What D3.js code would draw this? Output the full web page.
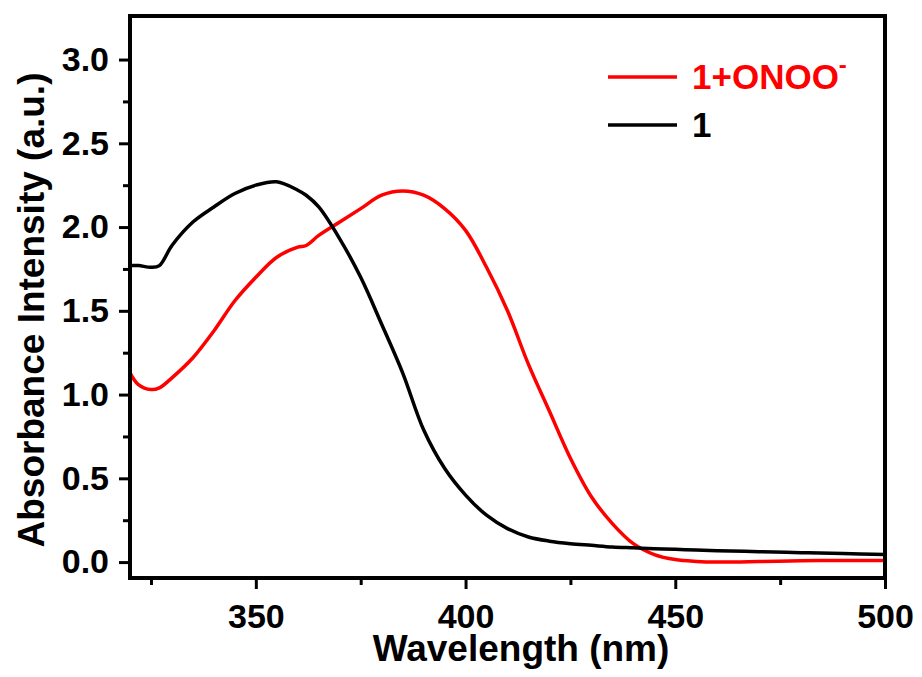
<!DOCTYPE html>
<html>
<head>
<meta charset="utf-8">
<script src="https://cdn.jsdelivr.net/npm/d3@7"></script>
<style>
  body { margin: 0; background: #fff; }
  text { font-family: "Liberation Sans", Arial, sans-serif; font-weight: bold; }
</style>
</head>
<body>
<div id="chart"></div>
<script>
// wavelength (nm) and absorbance of the two samples
var wavelength = [320, 322, 325, 327, 330, 335, 340, 345, 350, 355, 360, 362, 365, 370, 375, 380, 385, 390, 395, 400,
                  405, 410, 415, 420, 425, 430, 435, 440, 445, 450, 455, 460, 470, 480, 490, 500];
var probe      = [1.77, 1.77, 1.76, 1.77, 1.89, 2.03, 2.12, 2.20, 2.25, 2.27, 2.22, 2.19, 2.12, 1.93, 1.70, 1.42, 1.13, 0.79, 0.56, 0.40,
                  0.28, 0.20, 0.15, 0.125, 0.11, 0.10, 0.09, 0.085, 0.08, 0.076, 0.072, 0.068, 0.062, 0.056, 0.051, 0.046];
var probeOnoo  = [1.13, 1.06, 1.03, 1.04, 1.10, 1.22, 1.38, 1.56, 1.70, 1.82, 1.88, 1.89, 1.95, 2.03, 2.11, 2.19, 2.215, 2.19, 2.11, 1.98,
                  1.76, 1.50, 1.18, 0.90, 0.62, 0.39, 0.23, 0.11, 0.045, 0.015, 0.004, 0.0, 0.003, 0.008, 0.01, 0.01];

var xMajor = [350, 400, 450, 500];
var xMinor = [325, 375, 425, 475];
var yMajor = [0, 0.5, 1.0, 1.5, 2.0, 2.5, 3.0];
var yMinor = [0.25, 0.75, 1.25, 1.75, 2.25, 2.75];

var seriesNames = ["1+ONOO", "1"];
var seriesColors = ["#ff0000", "#000000"];

var W = 922, H = 677;
var margin = {top: 16, right: 37, bottom: 99, left: 130};

var svg = d3.select("#chart").append("svg")
  .attr("width", W)
  .attr("height", H);

var x = d3.scaleLinear().domain([320, 500]).range([margin.left, W - margin.right]);
var y = d3.scaleLinear().domain([-0.095, 3.26]).range([H - margin.bottom, margin.top]);

// minor ticks
svg.append("g")
  .attr("transform", "translate(0," + (H - margin.bottom) + ")")
  .call(d3.axisBottom(x).tickValues(xMinor).tickSize(7).tickFormat(""))
  .call(function(g) { g.select(".domain").remove(); })
  .selectAll("line").attr("stroke-width", 3);
svg.append("g")
  .attr("transform", "translate(" + margin.left + ",0)")
  .call(d3.axisLeft(y).tickValues(yMinor).tickSize(7).tickFormat(""))
  .call(function(g) { g.select(".domain").remove(); })
  .selectAll("line").attr("stroke-width", 3);

// major ticks + labels
var xa = svg.append("g")
  .attr("transform", "translate(0," + (H - margin.bottom) + ")")
  .call(d3.axisBottom(x).tickValues(xMajor).tickSize(11).tickPadding(15).tickFormat(d3.format("d")));
xa.select(".domain").remove();
xa.selectAll("line").attr("stroke-width", 3);
xa.selectAll("text").attr("font-size", 34).attr("fill", "#000")
  .style("font-family", "'Liberation Sans', Arial, sans-serif").style("font-weight", "bold");

var ya = svg.append("g")
  .attr("transform", "translate(" + margin.left + ",0)")
  .call(d3.axisLeft(y).tickValues(yMajor).tickSize(11).tickPadding(10).tickFormat(d3.format(".1f")));
ya.select(".domain").remove();
ya.selectAll("line").attr("stroke-width", 3);
ya.selectAll("text").attr("font-size", 34).attr("fill", "#000")
  .style("font-family", "'Liberation Sans', Arial, sans-serif").style("font-weight", "bold");

// curves
var line = d3.line().curve(d3.curveCatmullRom.alpha(0.5));
var data = [probeOnoo, probe];
data.forEach(function(vals, i) {
  svg.append("path")
    .attr("d", line(wavelength.map(function(w, j) { return [x(w), y(vals[j])]; })))
    .attr("fill", "none")
    .attr("stroke", seriesColors[i])
    .attr("stroke-width", 3.5)
    .attr("stroke-linejoin", "round");
});

// frame
svg.append("rect")
  .attr("x", margin.left)
  .attr("y", margin.top)
  .attr("width", W - margin.left - margin.right)
  .attr("height", H - margin.top - margin.bottom)
  .attr("fill", "none")
  .attr("stroke", "#000")
  .attr("stroke-width", 4);

// axis titles
svg.append("text")
  .attr("x", 521)
  .attr("y", 661)
  .attr("text-anchor", "middle")
  .attr("font-size", 37)
  .text("Wavelength (nm)");

svg.append("text")
  .attr("transform", "translate(44,310) rotate(-90)")
  .attr("text-anchor", "middle")
  .attr("font-size", 37)
  .text("Absorbance Intensity (a.u.)");

// legend
var legendY = [77, 125];
seriesNames.forEach(function(name, i) {
  svg.append("line")
    .attr("x1", 608).attr("x2", 677)
    .attr("y1", legendY[i]).attr("y2", legendY[i])
    .attr("stroke", seriesColors[i])
    .attr("stroke-width", 3.5);
  var t = svg.append("text")
    .attr("x", 692)
    .attr("y", legendY[i] + 12)
    .attr("font-size", 35)
    .attr("fill", i == 0 ? "#ff0000" : "#000")
    .text(name);
  if (i == 0) {
    t.append("tspan")
      .attr("dy", -16)
      .attr("font-size", 24)
      .text("-");
  }
});
</script>
</body>
</html>
